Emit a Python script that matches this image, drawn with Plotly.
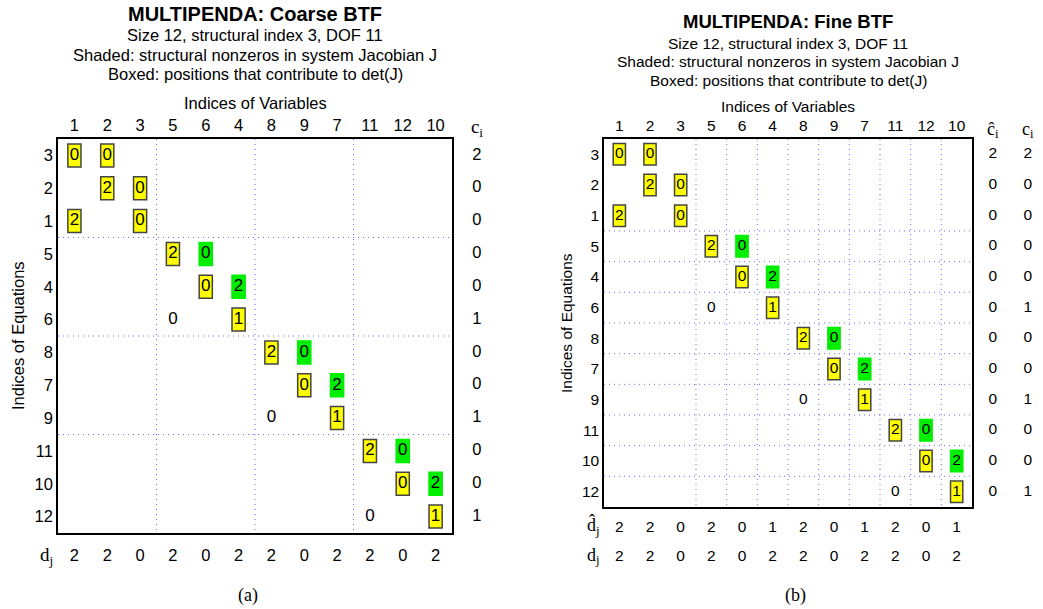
import plotly.graph_objects as go

# ---------------- data ----------------
row_labels = ["3", "2", "1", "5", "4", "6", "8", "7", "9", "11", "10", "12"]
col_labels = ["1", "2", "3", "5", "6", "4", "8", "9", "7", "11", "12", "10"]

# entries: position in permuted row / column order, value, kind
ent_row = [0, 0, 1, 1, 2, 2, 3, 3, 4, 4, 5, 5, 6, 6, 7, 7, 8, 8, 9, 9, 10, 10, 11, 11]
ent_col = [0, 1, 1, 2, 0, 2, 3, 4, 4, 5, 3, 5, 6, 7, 7, 8, 6, 8, 9, 10, 10, 11, 9, 11]
ent_val = [0, 0, 2, 0, 2, 0, 2, 0, 0, 2, 0, 1, 2, 0, 0, 2, 0, 1, 2, 0, 0, 2, 0, 1]
ent_kind = ["box", "box", "box", "box", "box", "box",
            "box", "shade", "box", "shade", "plain", "box",
            "box", "shade", "box", "shade", "plain", "box",
            "box", "shade", "box", "shade", "plain", "box"]

coarse_blocks = [3, 6, 9]
fine_blocks = [3, 4, 5, 6, 7, 8, 9, 10, 11]

c_coarse = [2, 0, 0, 0, 0, 1, 0, 0, 1, 0, 0, 1]
d_coarse = [2, 2, 0, 2, 0, 2, 2, 0, 2, 2, 0, 2]
chat_fine = [2, 0, 0, 0, 0, 0, 0, 0, 0, 0, 0, 0]
c_fine = [2, 0, 0, 0, 0, 1, 0, 0, 1, 0, 0, 1]
dhat_fine = [2, 2, 0, 2, 0, 1, 2, 0, 1, 2, 0, 1]
d_fine = [2, 2, 0, 2, 0, 2, 2, 0, 2, 2, 0, 2]

SANS = "Liberation Sans, Arial, sans-serif"
SERIF = "Liberation Serif, DejaVu Serif, serif"
YELLOW = "#ffff00"
GREEN = "#00ee00"
GRID = "rgba(70,70,255,0.8)"

W, H = 1043, 609
fig = go.Figure()
shapes = []
annotations = []
n = len(row_labels)
idx = list(range(n))

# panel boxes in pixels: (left, right, top, bottom)
P1 = (58, 452, 139, 533)
P2 = (604, 972, 139, 507)
# auxiliary (label) areas in pixels, same scale as the matrix axes
A1 = (20, 500, 110, 575)
A2 = (570, 1043, 115, 575)


def text_trace(xref, yref, xs, ys, texts, size, family=SANS):
    fig.add_trace(go.Scatter(
        x=xs, y=ys, mode="text", text=texts,
        textfont=dict(family=family, size=size, color="black"),
        textposition="middle center",
        xaxis=xref, yaxis=yref, showlegend=False, hoverinfo="skip", cliponaxis=False))


def panel(xa, ya, blocks, fsize):
    xref = "x" if xa == 1 else "x%d" % xa
    yref = "y" if ya == 1 else "y%d" % ya
    for b in blocks:
        shapes.append(dict(type="line", xref=xref, yref=yref, x0=b - 0.5, x1=b - 0.5,
                           y0=-0.5, y1=n - 0.5,
                           line=dict(color=GRID, width=1, dash="1px,4px"), layer="below"))
        shapes.append(dict(type="line", xref=xref, yref=yref, y0=b - 0.5, y1=b - 0.5,
                           x0=-0.5, x1=n - 0.5,
                           line=dict(color=GRID, width=1, dash="1px,4px"), layer="below"))
    for r, c, k in zip(ent_row, ent_col, ent_kind):
        if k == "plain":
            continue
        fill = YELLOW if k == "box" else GREEN
        lc = "#444444" if k == "box" else GREEN
        shapes.append(dict(type="rect", xref=xref, yref=yref,
                           x0=c - 0.2, x1=c + 0.2, y0=r - 0.35, y1=r + 0.35,
                           fillcolor=fill, line=dict(color=lc, width=1.5), layer="below"))
    text_trace(xref, yref, ent_col, ent_row, [str(v) for v in ent_val], fsize)
    return xref, yref


xr1, yr1 = panel(1, 1, coarse_blocks, 17)
xr2, yr2 = panel(2, 2, fine_blocks, 15.5)

axis_common = dict(showgrid=False, zeroline=False, showline=True, mirror=True,
                   linecolor="black", linewidth=1.5, ticks="", fixedrange=True)


def aux_axes(P, A):
    cell = (P[1] - P[0]) / n
    xr = [-0.5 - (P[0] - A[0]) / cell, -0.5 + (A[1] - P[0]) / cell]
    yr = [-0.5 + (A[3] - P[2]) / cell, -0.5 - (P[2] - A[2]) / cell]
    xd = [A[0] / W, A[1] / W]
    yd = [1 - A[3] / H, 1 - A[2] / H]
    return xd, xr, yd, yr


xd3, xrg3, yd3, yrg3 = aux_axes(P1, A1)
xd4, xrg4, yd4, yrg4 = aux_axes(P2, A2)
hidden = dict(visible=False, showgrid=False, zeroline=False, showline=False,
              showticklabels=False, ticks="", fixedrange=True)

fig.update_layout(
    xaxis=dict(domain=[P1[0] / W, P1[1] / W], range=[-0.5, 11.5], side="top", anchor="y",
               tickvals=idx, ticktext=col_labels,
               tickfont=dict(family=SANS, size=16.5, color="black"), **axis_common),
    yaxis=dict(domain=[1 - P1[3] / H, 1 - P1[2] / H], range=[11.5, -0.5], anchor="x",
               tickvals=idx, ticktext=row_labels,
               tickfont=dict(family=SANS, size=16.5, color="black"), **axis_common),
    xaxis2=dict(domain=[P2[0] / W, P2[1] / W], range=[-0.5, 11.5], side="top", anchor="y2",
                tickvals=idx, ticktext=col_labels,
                tickfont=dict(family=SANS, size=15.5, color="black"), **axis_common),
    yaxis2=dict(domain=[1 - P2[3] / H, 1 - P2[2] / H], range=[11.5, -0.5], anchor="x2",
                tickvals=idx, ticktext=row_labels,
                tickfont=dict(family=SANS, size=15.5, color="black"), **axis_common),
    xaxis3=dict(domain=xd3, range=xrg3, anchor="y3", **hidden),
    yaxis3=dict(domain=yd3, range=yrg3, anchor="x3", **hidden),
    xaxis4=dict(domain=xd4, range=xrg4, anchor="y4", **hidden),
    yaxis4=dict(domain=yd4, range=yrg4, anchor="x4", **hidden),
)

# left c_i / d_j (on auxiliary axes sharing the matrix scale)
text_trace("x3", "y3", [12.26] * n, idx, [str(v) for v in c_coarse], 16.5)
text_trace("x3", "y3", idx, [12.23] * n, [str(v) for v in d_coarse], 16.5)
text_trace("x3", "y3", [12.26], [-0.83], ["c<sub>i</sub>"], 19, SERIF)
text_trace("x3", "y3", [-0.85], [12.2], ["d<sub>j</sub>"], 19, SERIF)

# right
text_trace("x4", "y4", [12.18] * n, idx, [str(v) for v in chat_fine], 15.5)
text_trace("x4", "y4", [13.32] * n, idx, [str(v) for v in c_fine], 15.5)
text_trace("x4", "y4", idx, [12.18] * n, [str(v) for v in dhat_fine], 15.5)
text_trace("x4", "y4", idx, [13.13] * n, [str(v) for v in d_fine], 15.5)
text_trace("x4", "y4", [12.18, 13.32], [-0.79, -0.79], ["ĉ<sub>i</sub>", "c<sub>i</sub>"], 18, SERIF)
text_trace("x4", "y4", [-0.85, -0.85], [12.15, 13.1], ["d̂<sub>j</sub>", "d<sub>j</sub>"], 18, SERIF)


def ann_px(xpx, ypx, text, size, family=SANS, angle=0):
    annotations.append(dict(xref="paper", yref="paper", x=xpx / W, y=1 - ypx / H, text=text,
                            showarrow=False, textangle=angle,
                            font=dict(family=family, size=size, color="black"),
                            xanchor="center", yanchor="middle"))


ann_px(255, 14, "<b>MULTIPENDA: Coarse BTF</b>", 20)
ann_px(255, 35, "Size 12, structural index 3, DOF 11", 16.5)
ann_px(255, 55, "Shaded: structural nonzeros in system Jacobian J", 16.5)
ann_px(255, 74, "Boxed: positions that contribute to det(J)", 16.5)
ann_px(255, 103, "Indices of Variables", 16.5)
ann_px(18, 336, "Indices of Equations", 16.5, angle=-90)
ann_px(248, 595, "(a)", 18, SERIF)

ann_px(788, 22, "<b>MULTIPENDA: Fine BTF</b>", 18.5)
ann_px(788, 43, "Size 12, structural index 3, DOF 11", 15.5)
ann_px(788, 62, "Shaded: structural nonzeros in system Jacobian J", 15.5)
ann_px(788, 80, "Boxed: positions that contribute to det(J)", 15.5)
ann_px(788, 106, "Indices of Variables", 15.5)
ann_px(566, 323, "Indices of Equations", 15.5, angle=-90)
ann_px(795, 595, "(b)", 18, SERIF)

fig.update_layout(
    width=W, height=H, margin=dict(l=0, r=0, t=0, b=0),
    paper_bgcolor="white", plot_bgcolor="rgba(0,0,0,0)",
    shapes=shapes, annotations=annotations, showlegend=False,
)

fig.write_html("out.html")
